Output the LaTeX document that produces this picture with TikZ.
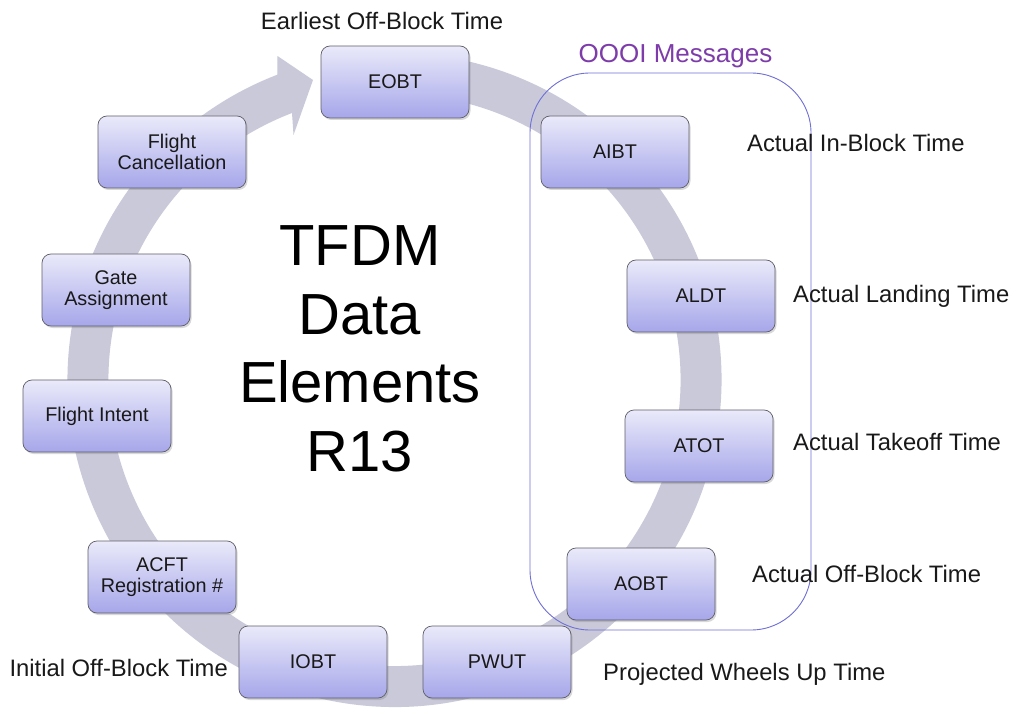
\documentclass[tikz,border=0pt]{standalone}
\usepackage{fontspec}
\setmainfont{Liberation Sans}
\usetikzlibrary{shadows,calc}
\definecolor{band}{RGB}{201,201,218}
\definecolor{boxtop}{RGB}{234,234,250}
\definecolor{boxbot}{RGB}{166,166,234}
\definecolor{boxline}{RGB}{95,95,105}
\definecolor{oooi}{RGB}{112,112,214}
\definecolor{oooitxt}{RGB}{125,60,170}
\definecolor{txt}{RGB}{25,25,25}
\begin{document}
\begin{tikzpicture}[x=1pt,y=1pt,
  databox/.style={draw=boxline, line width=0.7pt, rounded corners=9pt,
    top color=boxtop, bottom color=boxbot, minimum width=148pt,
    minimum height=72pt, inner sep=0pt, align=center,
    font=\fontsize{19.8}{20.5}\selectfont, text=txt,
    drop shadow={shadow xshift=1.5pt, shadow yshift=-2pt, opacity=0.3}},
  lbl/.style={font=\fontsize{23.8}{26}\selectfont, text=txt, inner sep=0pt},
  ring/.style={fill=band},
  groupbox/.style={draw=oooi, line width=0.9pt, rounded corners=60pt}
]
\useasboundingbox (0,0) rectangle (1011,-708);
\fill[white] (0,0) rectangle (1011,-708);
\coordinate (c) at (394.5,-380);
\begin{scope}[shift={(c)}]
\fill[ring] (80:327) arc[start angle=80, end angle=-249, radius=327]
  -- (-117,324) -- (-81.5,300) -- (-101,245)
  -- (-249:286) arc[start angle=-249, end angle=80, radius=286] -- cycle;
\end{scope}
\node[groupbox, minimum width=281pt, minimum height=557pt, inner sep=0pt] (oooibox) at (670.5,-351.5) {};

\node[databox] (eobt) at (395,-82) {EOBT};
\node[databox] (aibt) at (615,-152) {AIBT};
\node[databox] (aldt) at (701,-296) {ALDT};
\node[databox] (atot) at (699,-446) {ATOT};
\node[databox] (aobt) at (641,-584) {AOBT};
\node[databox] (pwut) at (497,-662) {PWUT};
\node[databox] (iobt) at (313,-662) {IOBT};
\node[databox] (acft) at (162,-577) {ACFT\\Registration \#};
\node[databox] (intent) at (97,-416) {Flight Intent};
\node[databox] (gate) at (116,-290) {Gate\\Assignment};
\node[databox] (cancel) at (172,-152) {Flight\\Cancellation};

\node[font=\fontsize{58}{68.5}\selectfont, align=center, inner sep=0pt, text=black] (title) at (360,-349) {TFDM\\Data\\Elements\\R13};

\node[lbl, anchor=base] (leobt) at (382,-30) {Earliest Off-Block Time};
\node[lbl, anchor=base, text=oooitxt, font=\fontsize{26}{28}\selectfont] (loooi) at (675.5,-63) {OOOI Messages};
\node[lbl, anchor=base west] (laibt) at (747,-152) {Actual In-Block Time};
\node[lbl, anchor=base west] (laldt) at (793,-302) {Actual Landing Time};
\node[lbl, anchor=base west] (latot) at (793,-450) {Actual Takeoff Time};
\node[lbl, anchor=base west] (laobt) at (752,-582) {Actual Off-Block Time};
\node[lbl, anchor=base west] (lpwut) at (603,-680) {Projected Wheels Up Time};
\node[lbl, anchor=base east] (liobt) at (228,-676) {Initial Off-Block Time};
\end{tikzpicture}
\end{document}
